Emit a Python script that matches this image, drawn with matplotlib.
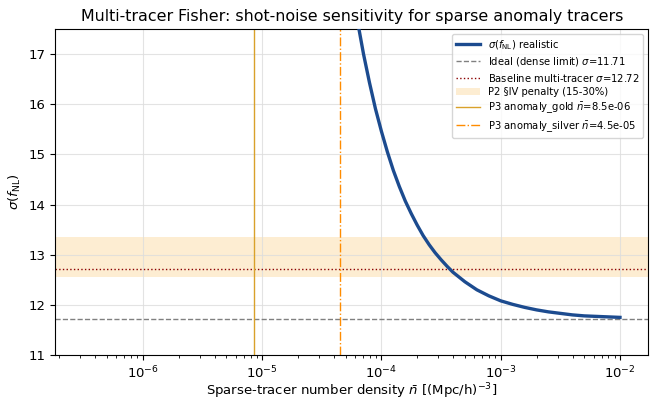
import numpy as np
import matplotlib
matplotlib.use("Agg")
import matplotlib.pyplot as plt

# Curve: log10(n_bar) and sigma(f_NL)
log_nbar = [-4.25, -4.20, -4.15, -4.10, -4.05, -4.00, -3.95, -3.90, -3.85,
            -3.80, -3.75, -3.70, -3.65, -3.60, -3.55, -3.50, -3.45, -3.40,
            -3.30, -3.20, -3.10, -3.00, -2.90, -2.80, -2.70, -2.60, -2.50,
            -2.40, -2.30, -2.20, -2.10, -2.00]
sigma_real = [18.37, 17.65, 17.00, 16.43, 15.91, 15.46, 15.05, 14.68, 14.36,
              14.07, 13.82, 13.59, 13.38, 13.20, 13.04, 12.90, 12.77, 12.65,
              12.46, 12.30, 12.18, 12.08, 12.01, 11.95, 11.90, 11.86, 11.83,
              11.80, 11.78, 11.77, 11.76, 11.75]
nbar = [10 ** v for v in log_nbar]

sigma_ideal = 11.71
sigma_base = 12.72
penalty_lo = 12.557
penalty_hi = 13.352
n_gold = 8.5e-6
n_silver = 4.5e-5

fig, ax = plt.subplots(figsize=(6.52, 4.0), dpi=100)
fig.subplots_adjust(left=0.085, right=0.994, top=0.9275, bottom=0.1125)

ax.plot(nbar, sigma_real, color="#1c4b8f", lw=2.4, solid_joinstyle="round",
        label=r"$\sigma(f_{\rm NL})$ realistic", zorder=5)
ax.axhline(sigma_ideal, color="gray", ls="--", lw=1.0,
           label=f"Ideal (dense limit) $\\sigma$={sigma_ideal:.2f}")
ax.axhline(sigma_base, color="#8b0000", ls=":", lw=1.0,
           label=f"Baseline multi-tracer $\\sigma$={sigma_base:.2f}")
ax.axhspan(penalty_lo, penalty_hi, color="#fde9c7", alpha=0.8, lw=0,
           label="P2 §IV penalty (15-30%)")
ax.axvline(n_gold, color="#d9a12a", ls="-", lw=1.0,
           label=r"P3 anomaly_gold $\bar{n}$=8.5e-06")
ax.axvline(n_silver, color="#ff8c00", ls="-.", lw=1.0,
           label=r"P3 anomaly_silver $\bar{n}$=4.5e-05")

ax.set_xscale("log")
ax.set_xlim(1.85e-7, 1.72e-2)
ax.set_ylim(11, 17.5)
ax.grid(True, which="major", color="#dddddd", lw=0.8, alpha=0.8)
ax.tick_params(labelsize=9.5)
ax.set_xlabel(r"Sparse-tracer number density $\bar{n}$ [(Mpc/h)$^{-3}$]",
              fontsize=9.5, labelpad=0)
ax.set_ylabel(r"$\sigma(f_{\rm NL})$", fontsize=9.5)
ax.set_title("Multi-tracer Fisher: shot-noise sensitivity for sparse anomaly tracers",
             fontsize=11.4)
ax.legend(loc="upper right", fontsize=7.2, handlelength=2.4, labelspacing=0.35)

fig.savefig("out.png", dpi=100)
